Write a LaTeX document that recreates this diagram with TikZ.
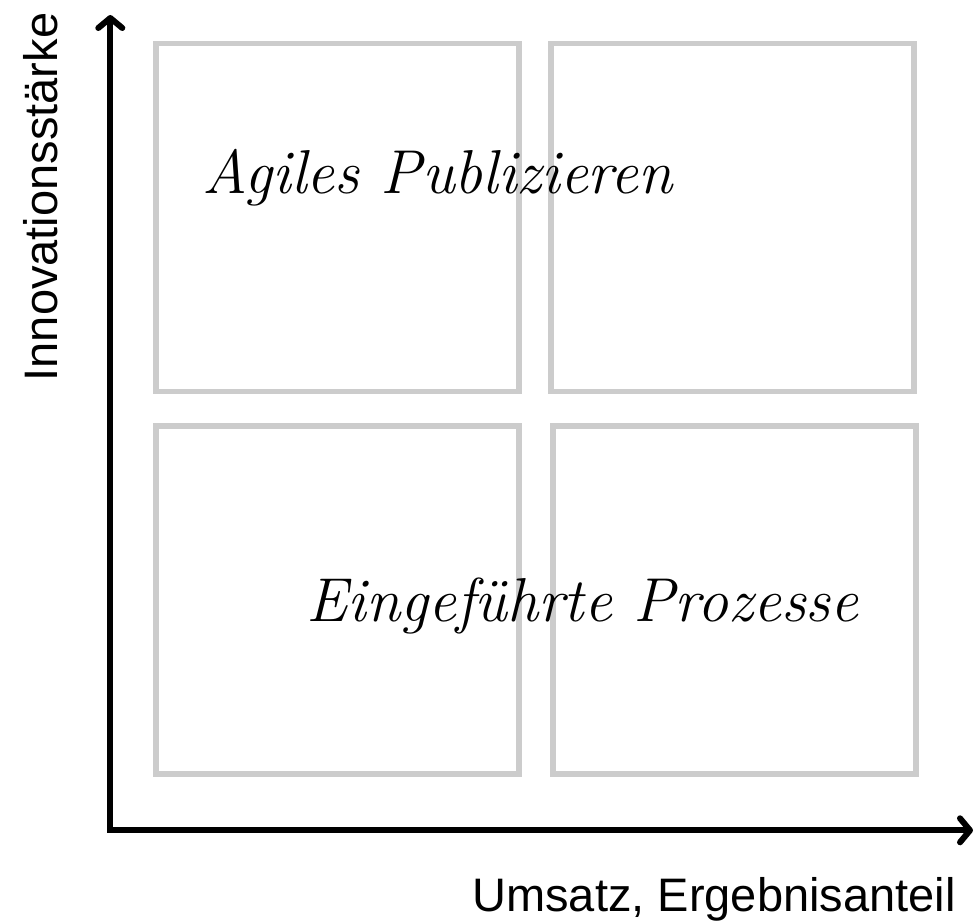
\documentclass[tikz,border=0pt]{standalone}
\usepackage{fontspec}
\usetikzlibrary{arrows.meta}
\newfontfamily\labelfont{Liberation Sans}
\definecolor{boxgray}{HTML}{CCCCCC}

\begin{document}
\begin{tikzpicture}[x=1pt,y=1pt]
\tikzstyle{every node}+=[inner sep=0pt]
\tikzstyle{quadrant}=[draw=boxgray, line width=5.5pt, minimum width=363pt, minimum height=348pt]
\tikzstyle{axes}=[line width=6pt, line join=miter, {Straight Barb[length=10pt,width=24pt,round]}-{Straight Barb[length=10pt,width=24pt,round]}]
\tikzstyle{caption}=[font=\fontsize{62}{72}\selectfont\itshape]
\tikzstyle{axislabel}=[font=\labelfont\fontsize{47}{56}\selectfont]
\useasboundingbox (0,0) rectangle (979,-922);
% the four quadrants
\node [quadrant] (q1) at (337.4,-217.3) {};
\node [quadrant] (q2) at (732.4,-217.3) {};
\node [quadrant] (q3) at (337.4,-599.8) {};
\node [quadrant] (q4) at (734.5,-599.8) {};
% axes
\coordinate (origin) at (110.3,-830.3);
\coordinate (ytip) at (110.3,-15);
\coordinate (xtip) at (973,-830.3);
\draw [axes] (ytip) -- (origin) -- (xtip);
\node [axislabel, anchor=base] (xlabel) at (714,-911) {Umsatz, Ergebnisanteil};
\node [axislabel, anchor=base, rotate=90] (ylabel) at (57,-197) {Innovationsstärke};
% captions
\node [caption, anchor=base] (agile) at (437.5,-193) {Agiles Publizieren};
\node [caption, anchor=base] (established) at (582.5,-621) {Eingeführte Prozesse};
\end{tikzpicture}
\end{document}
